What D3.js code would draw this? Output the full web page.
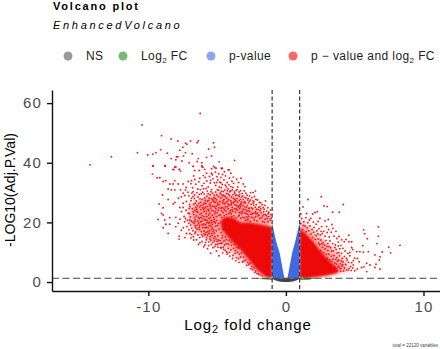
<!DOCTYPE html>
<html lang="en">
<head>
  <meta charset="utf-8">
  <title>Volcano plot</title>
  <script src="https://d3js.org/d3.v7.min.js"></script>
  <style type="text/css">
    body { margin: 0; background: #fff; }
    text { font-family: "Liberation Sans", Arial, sans-serif; }
    .axis path, .axis line { stroke: #111; stroke-width: 1.4; }
    .axis text { fill: #4d4d4d; font-size: 15px; letter-spacing: 1.2px; }
  </style>
</head>
<body>
  <div id="chart"></div>
  <script type="text/javascript">
    const w = 440;
    const h = 349;

    const xTicks = [-10, 0, 10];
    const yTicks = [0, 20, 40, 60];
    const fcCut = 1;
    const pCut = 1.3;

    const legendLabels = ["NS", "Log", "p-value", "p \u2212 value and log"];

    // solid parts of the plot, read as outlines: [x, low, high]
    const leftSoft = [[-7, 20, 25], [-6.5, 17, 27], [-5.5, 14, 29], [-4.5, 12, 30], [-3.5, 8.5, 28], [-2.5, 4.5, 25], [-1.5, 1.5, 23], [-1, 1.3, 22]];
    const leftSolid = [[-4.7, 18, 21], [-4.3, 15.5, 22], [-3.8, 13, 21.5], [-3.3, 10.8, 20], [-2.7, 7.5, 20], [-2, 3.6, 19.5], [-1.5, 1.8, 19], [-1, 1.3, 18.5]];
    const rightSoft = [[1, 1.3, 21], [1.5, 1.3, 19], [2, 1.6, 17], [2.5, 2, 15], [3, 2.3, 13], [3.5, 2.7, 10.5], [4, 3.2, 8], [4.5, 3.8, 6]];
    const rightSolid = [[1, 1.3, 18], [1.5, 1.3, 16], [2, 1.5, 13.5], [2.5, 1.9, 10.5], [3, 2.2, 8], [3.5, 2.7, 5.5], [3.8, 3.2, 4.5]];
    const leftBlue = [[-1, 1.3, 20], [-0.9, 1.3, 17.5], [-0.7, 1.3, 13.5], [-0.45, 1.3, 9.7], [-0.3, 1.3, 6], [-0.12, 1.3, 1.5]];
    const rightBlue = [[0.12, 1.3, 1.5], [0.3, 1.3, 6], [0.45, 1.3, 9.7], [0.7, 1.3, 14], [0.9, 1.3, 18], [1, 1.3, 20.5]];
    const greyBand = [[-1, 1.1, 1.3], [-0.8, 0.6, 1.3], [-0.5, 0.2, 1.3], [-0.2, 0, 1.3], [0.2, 0, 1.3], [0.5, 0.2, 1.3], [0.8, 0.6, 1.3], [1, 1.1, 1.3]];
    const greenLeft = [[-2.2, 1.25, 1.3], [-1.6, 0.9, 1.3], [-1, 0.8, 1.3]];
    const greenRight = [[1, 0.8, 1.3], [1.6, 0.8, 1.3], [2.2, 1.2, 1.3]];

    // single points
    const outliers = [[-14.23,39.3],[-12.68,42],[-10.79,43.4],[-10.45,52.7],[-10.04,42.6],[-9.67,42.9],[-9.45,43.4],[-9.11,44.4],[-9.04,49.1],[-8.77,38.9],[-8.63,43.2],[-9.67,38.9],
      [-8.34,48],[-7.85,47.3],[-6.93,47.3],[-7.3,46.6],[-7.2,46.2],[-6.37,47.3],[-6.45,46.7],[-5.26,46.7],[-7.49,45.2],[-5.19,45.2],[-5.62,44.6],[-7.71,44.2],[-7.3,43.4],[-6.81,43],[-7.85,42],[-7.95,42],[-7.44,42.3],[-5.4,42.3],[-5.77,41.8],[-8.34,41.4],[-8,41],[-7.56,40.6],[-6.37,41.4],[-7.03,40],[-6.45,40.4],[-6.11,40],[-4.85,40.3],[-3.73,40.8],[-8,38.6],[-6.74,38.8],[-6.11,39],[-6.06,38.5],[-5.26,38.8],[-5.4,38],[-5.07,38.2],[-4.65,38.2],[-8.15,37.7],[-7.73,37.8],[-5.9,37.8],[-6.23,56.5]];

    const leftSparse = [[-9.65,38.9],[-8.8,39],[-8.2,37.8],[-8.07,38.6],[-7.76,37.8],[-7.66,37.2],[-6.74,38.8],[-6.62,37.4],[-6.3,37.4],[-6.06,38.6],[-5.77,36.5],[-5.41,36.5],[-5.17,38.4],[-4.68,38.1],[-4.2,37.6],[-9.7,36.2],[-9.36,35],[-9.17,35],[-8.92,33.7],[-8.73,34],[-8.07,34],[-8.44,32.9],[-8.2,32.9],[-7.83,32.9],[-7.47,32.9],[-8.56,31.2],[-8.32,30.9],[-8.07,30.9],[-7.66,30.9],[-7.3,30.9],[-6.79,31.6],[-7.1,33.7],[-6.86,34],[-6.62,34.4],[-6.26,34.8],[-8.97,29.2],[-8.56,27.7],[-7.81,28.1],[-7.47,29.8],[-6.74,30.3],[-6.62,29.2],[-9.21,26.2],[-8.92,24.9],[-8.07,26.7],[-8.2,26.2],[-7.47,26.4],[-7.23,27],[-6.86,28.1],[-9.04,23],[-8.92,22.5],[-9.29,21],[-8.8,20.8],[-8.44,21.6],[-8,21.7],[-7.47,25],[-7.71,25],[-7.59,23.6],[-7.03,24.7],[-8.73,19.4],[-8.92,18.2],[-8.44,19.4],[-8,18.6],[-8.56,16.3],[-7.76,15.4],[-7.83,19.7],[-7.35,20.2],[-6.98,20.8],[-6.62,20.2],[-6.26,19.1],[-5.89,20.8],[-7.23,16.3],[-6.98,16.3],[-6.62,16.3],[-7.76,14.4],[-7.35,14.9],[-6.26,14.9],[-5.77,14.9],[-5.41,16.3],
      [-4.63,38.1],[-4.12,37.6],[-4,36.5],[-4.39,35.6],[-4.73,35.1],[-4.27,33.4],[-4.73,33.3],[-4,32],[-3.44,33.4],[-3.1,32.9],[-2.98,32],[-3.54,31],[-4.44,30.9],[-4.07,30.3],[-3.71,29.8],[-3.35,29.4],[-2.91,29.8],[-2.57,30],[-2.38,30],[-2.21,30.5],[-2.74,28],[-2.18,27.7],[-1.94,26.7],[-1.48,27.2],[-1.84,26.6],[-2.38,26.4],[-2.98,27],[-3.35,25.8],[-1.89,25.3],[-1.65,25],[-1.58,24.4],[-2.13,24.4],
      [-5.48,9.7],[-4.87,8.8],[-5.89,12.4],[-5.3,11.5],[-5.7,11.2],[-5.05,10.4],[-4.6,9.8],[-4.4,10.6],[-6.1,13.6],[-5.6,13.4],[-5.1,12.6],[-6.5,14.2],[-6.9,14.8]];

    const leftCloud = [[-6.9,27.3],[-6.7,26.1],[-6.4,28.5],[-6.2,26.8],[-6.05,30.1],[-5.9,28.2],[-5.8,31.4],[-5.65,29.6],[-5.5,33.2],[-5.4,31],[-5.3,34.6],[-5.2,29.1],[-5.1,32.4],[-5,35.3],[-4.9,30.8],[-4.8,33.5],[-4.7,31.6],[-4.6,28.9],[-4.5,34.2],[-4.4,32.5],[-4.3,29.7],[-4.2,31.3],[-4.1,34.9],[-3.9,30.9],[-3.8,33.1],[-3.7,27.8],[-3.6,29.2],[-3.5,31.9],[-3.4,27.4],[-3.3,30.6],[-3.2,28.5],[-3.05,26.6],[-2.9,28.2],[-2.8,25.7],[-2.65,27.1],[-2.5,24.9],[-2.35,25.8],[-2.2,23.7],[-2,24.3],[-1.8,23.2],[-1.6,22.7],[-1.4,23.8],[-1.25,21.9],[-1.1,22.6],
      [-7.1,23.1],[-6.95,21.8],[-6.8,24.6],[-6.7,22.7],[-6.55,25],[-6.4,23.4],[-6.3,21.2],[-6.2,24.3],[-6.1,22.2],[-6,26],[-5.95,23.6],[-5.85,25.2],[-5.75,21.9],[-5.7,27.1],[-5.6,23.9],[-5.55,26.1],[-5.45,24.8],[-5.4,27.9],[-5.3,25.4],[-5.25,28.3],[-5.15,26.7],[-5.05,27.6],[-4.95,25.9],[-4.9,28.7],[-4.8,27],[-4.7,29.4],[-4.6,26.5],[-4.5,27.7],[-4.4,25.3],[-4.3,28.2],[-4.2,26.1],[-4.1,29],[-4,27.2],[-3.9,25],[-3.8,28.1],[-3.7,25.9],[-3.6,24.6],[-3.5,26.8],[-3.4,23.3],[-3.3,25.2],[-3.2,22.9],[-3.1,24.4],[-3,21.6],[-2.9,23],[-2.8,20.9],[-2.7,22.1],[-2.6,20.4],[-2.5,21.7],[-2.4,23.1],[-2.3,20.8],[-2.2,21.9],[-2.1,20.5],[-1.9,21.3],[-1.7,20.3],[-1.5,21.1],[-1.3,20.2],[-1.15,20.8],
      [-7.2,18.6],[-7.05,19.7],[-6.85,18.1],[-6.75,17.2],[-6.6,18.9],[-6.45,17.7],[-6.35,19.8],[-6.15,16.9],[-6.05,18.3],[-5.95,17.1],[-5.85,19.2],[-5.7,15.8],[-5.65,18.1],[-5.55,20.1],[-5.5,15.2],[-5.4,17.6],[-5.35,19.3],[-5.25,14.6],[-5.2,16.4],[-5.1,18.7],[-5,13.6],[-4.95,15.5],[-4.85,12.9],[-4.75,11.6],[-4.65,13.1],[-4.55,11.7],[-4.45,12.4],[-4.3,10.1],[-4.2,11.3],[-4.1,9.9],[-4,10.8],[-3.85,8.9],[-3.7,9.6],[-3.6,8.2],[-3.45,7.8],[-3.3,8.4],[-3.15,6.7],[-3.05,7.1],[-2.85,5.6],[-2.7,5.9],[-2.55,4.5],[-2.4,4.1],[-2.25,3.3],[-2.1,2.9],
      [-6.6,20.9],[-6.35,21.7],[-6.1,20.4],[-5.8,22.9],[-5.6,21.3],[-5.35,22.4],[-5.2,21.1],[-5.75,19.9],[-6.5,23.7],[-6.05,24.9],[-5.85,27.4],[-5.5,29.3],[-5.3,27.5],[-5.1,30.2],[-4.85,31.9],[-4.55,30.4],[-4.25,30.6],[-3.95,28.5],[-3.75,30.2],[-3.55,28],[-3.25,26.4],[-3,25.3],[-2.75,24],[-2.45,22.9],[-6.25,27.9],[-6.75,28.7],[-7,26],[-6.15,29.6],[-5.55,35.4],[-5.95,33.1],[-5.2,33.3],[-4.95,34.2],[-6.1,32.3],[-6.4,31.2],[-6.55,32.8],[-5.65,31.9],[-6,35.7],[-5.75,33.9],[-4.6,36.1],[-5.35,36],[-6.7,35.6],[-6.9,33],[-7.25,31.7],[-7.6,28.6],[-7.35,29],[-7.05,28.9],[-7.4,22],[-7.7,21.1],[-7.25,24.1],[-7.15,20.7],[-7.45,18.2],[-7.6,17.4],[-7.05,17.5],[-6.85,15.9],[-6.4,15.8],[-6.05,15.3]];

    const leftBody = [[-6.33,33.6],[-5.87,35.1],[-5.12,36.8],[-4.88,36.3],[-4.47,37],[-3.82,35.2],[-3.58,34.5],[-3.27,34.8],[-3.92,33.8],[-4.62,32.7],[-5.03,33.4],[-5.47,34.1],[-5.72,30.5],[-5.98,31.3],[-6.22,31],[-6.47,30],[-6.83,29.8],[-7.12,30.1],[-5.58,28.2],[-5.33,29.8],[-5.02,29.3],[-4.78,29.9],[-4.52,29.1],[-4.33,31.9],[-4.14,32.6],[-3.86,31.7],[-3.62,30.7],[-3.41,30.2],[-3.18,29.7],[-3.03,30.6],[-2.82,29.1],[-2.64,28.9],[-2.47,28.3],[-2.29,28.7],[-2.06,27.5],
      [-6.52,27.2],[-6.33,26.3],[-6.08,27.7],[-5.92,26.6],[-5.68,25.3],[-5.43,26.7],[-5.18,25.2],[-4.97,26.6],[-4.73,28.2],[-4.64,25.1],[-4.48,26.2],[-4.27,27],[-4.12,25.8],[-3.94,26.5],[-3.74,27],[-3.57,25.7],[-3.38,28.6],[-3.22,27],[-3.09,27.7],[-2.93,26.5],[-2.72,26.6],[-2.54,26.1],[-2.31,26.9],[-2.16,25.9],[-1.98,25],[-1.73,25.9],[-1.52,25.7],[-1.32,24.9],[-1.12,24.2],
      [-6.97,25.3],[-6.62,24.1],[-6.27,25.2],[-5.99,24.3],[-5.78,23.8],[-5.52,23.1],[-5.27,23.8],[-5.09,24.6],[-4.87,24.9],[-4.68,23.9],[-4.52,24.7],[-4.36,23.8],[-4.21,24.6],[-4.03,24.1],[-3.87,23.7],[-3.66,23.4],[-3.53,24.1],[-3.35,24.6],[-3.15,23.8],[-2.96,24.3],[-2.78,22.7],[-2.62,23.7],[-2.41,24.5],[-2.23,25.1],[-2.07,23.1],[-1.88,23.9],[-1.68,22.2],[-1.47,22.6],[-1.28,22.9],[-1.08,21.4],
      [-7.3,21.3],[-7.02,22.9],[-6.78,20.1],[-6.52,22.2],[-6.24,22.7],[-6.02,21.2],[-5.82,20.9],[-5.62,22.5],[-5.43,20.7],[-5.16,22.9],[-4.98,23.2],[-4.76,22.6],[-4.56,23.3],[-4.34,22.7],[-4.17,23],[-3.98,22.8],[-3.78,22.2],[-3.62,21.6],[-3.44,22.1],[-3.28,21.4],[-3.12,21.7],[-2.94,20.7],[-2.74,21.2],[-2.56,22.7],[-2.36,21.6],[-2.17,22.8],[-1.96,22.4],[-1.76,21.6],[-1.56,20],[-1.36,21.3],
      [-6.92,19.1],[-6.68,19.6],[-6.43,19.1],[-6.21,20.2],[-5.97,19.5],[-5.76,18.4],[-5.58,19],[-5.33,18.2],[-5.13,19.8],[-5.28,20.4],[-5.46,18.7],[-5.68,16.9],[-5.88,15.8],[-5.59,16.3],[-5.36,15.6],[-5.16,15.2],[-6.27,17.6],[-6.56,16.8],[-6.72,15.2],[-6.12,15.9],[-5.94,16.2],[-5.78,14.2],[-5.52,14.4],[-5.31,13.3],[-5.08,14.4],[-4.91,14.1],[-4.78,13.9],[-4.63,14.8],[-4.5,13.8],[-4.32,12.9],[-4.18,12.7],[-3.96,12.3],[-3.8,11.3],[-3.67,10.6],[-3.52,10],[-3.36,9.3],[-3.22,9.8],[-3.08,8.3],[-2.92,7.4],[-2.78,6.6],[-2.62,6.3],[-2.47,5.2],[-2.32,4.7],[-2.18,3.8],[-2,2.7],[-1.88,2.4],[-1.72,2],
      [-4.9,19.6],[-5.02,20.6],[-5.23,17.5],[-4.7,11.4],[-4.94,11.7],[-5.17,11.9],[-5.42,12.6],[-5.62,12.2],[-4.52,10.9],[-4.27,9.4],[-4.08,8.7],[-3.88,7.9],[-3.64,7.2],[-3.41,6.6],[-5.84,13.3],[-6.25,13.2],[-6.7,14.1],[-5.97,11.8],[-6.36,12.6]];

    const leftExtra = [[-6.58,26.4],[-6.44,25.6],[-6.16,25.7],[-5.82,26.3],[-5.62,27.4],[-5.48,25.6],[-5.23,27],[-5.07,25.4],[-4.84,26],[-4.58,27.2],[-4.38,26.6],[-4.16,27.6],[-3.97,25.9],[-3.82,26.6],[-3.64,27.3],[-3.47,25.2],[-3.28,26],[-3.13,25.7],[-2.87,25],[-2.68,24.7],
      [-6.74,23.5],[-6.48,24.4],[-6.14,23.1],[-5.9,24.7],[-5.66,24.4],[-5.38,24],[-5.12,23.6],[-4.92,24.1],[-4.72,24.7],[-4.45,24.2],[-4.26,25.2],[-4.06,23.4],[-3.9,24.2],[-3.71,24.5],[-3.44,25.3],[-3.25,23.5],[-3.02,23.2],[-2.84,23.8],[-2.66,24.8],
      [-6.87,20.4],[-6.63,21.7],[-6.42,20.5],[-6.18,21.6],[-5.94,22],[-5.71,20.6],[-5.48,21.7],[-5.26,21.7],[-5.06,22],[-4.86,22.3],[-4.66,21.7],[-4.48,22.2],[-6.55,18.2],[-6.3,18.4],[-6.08,19.2],[-5.88,18.2],[-5.62,19.8],[-5.41,19.9],[-5.18,20.2],[-4.96,19],[-4.76,20],[-4.58,19.4],
      [-5.8,16.6],[-5.54,17.2],[-5.3,16.9],[-5.06,17.2],[-4.86,17.8],[-4.7,16.6],[-4.55,17.6],[-4.4,15.1],[-5.45,14],[-5.2,13.8],[-4.98,12.6],[-4.72,12.9],[-4.6,15.6],[-4.35,14.2],[-4.12,14],[-3.98,13.4],[-3.76,12.6],[-3.58,11.6],[-3.42,11.4],
      [-6.65,28],[-6.3,29.4],[-5.94,29.5],[-5.75,28.8],[-5.45,30.3],[-5.15,28.1],[-4.98,31],[-4.7,30.5],[-4.42,28.7],[-4.18,29.5],[-4.02,30.6],[-3.84,29.3],[-3.66,28.9],[-3.46,29],[-3.3,27.8],[-3.12,28.9],[-2.98,28.4],[-2.78,27.5],[-2.58,27.5],[-2.4,27.2],
      [-2.84,21.8],[-3.38,22.5],[-3.94,21.9],[-1.24,23.4],[-1.42,22.2],[-1.62,23.6],[-1.82,24.6],[-2.02,22.2],[-2.24,23.2]];

    const rightCloud = [[2.57,28.6],[1.6,27.7],[2.77,25.5],[3,25.3],[4.17,26],[1.24,25.2],[3.4,23.4],[3.88,23.4],[2.28,23.6],[2.11,23.3],[1.94,22.8],[1.5,23],[1.09,22.8],[1.8,21.4],[2.47,21.4],[2.84,20.5],[3.08,21],[3.35,19.3],[2.6,18.6],[2.96,18.6],
      [1.15,21.3],[1.3,20.2],[1.45,21.6],[1.6,19.9],[1.7,20.8],[2,20.1],[2.2,19.4],[2.35,20.3],[1.25,19],[1.55,18.2],[1.75,18.8],[1.9,17.6],[2.05,18.3],[2.25,17.2],[2.4,17.9],[2.75,17],[2.5,15.8],[2.65,16.3],[2.85,15.4],[3,16.6],[3.15,15.1],[3.3,16.7],[3.5,15.4],[3.7,14.6],[2.2,15.6],[2.35,14.4],[2.55,14.1],[2.7,13.3],[2.9,13.9],[3.05,12.9],[3.2,13.8],[3.4,12.9],[3.6,12.4],[3.8,13.4],[4,12.3],[4.15,11.3],[2.45,12.5],[2.65,11.6],[2.85,11.1],[3.05,10.6],[3.25,11.5],[3.45,10.4],[3.65,10.9],[3.85,9.9],[4.3,10.4],[4.5,9.6],[3.1,9.3],[3.3,8.7],[3.5,8.9],[3.7,8.2],[3.9,8.8],[4.1,7.9],[4.25,8.6],[4.45,7.3],[4.65,8.8],[3.35,6.9],[3.55,6.4],[3.75,7],[3.95,6.1],[4.15,6.7],[4.35,5.9],[4.55,6.6],[4.7,5.2],[3.6,4.9],[3.8,5.3],[4,4.5],[4.25,4.7],[4.4,4.1],[4.75,3.9],[3.3,3.5],[3.55,3.8],[5,3.8],[4.9,7.2],[5.2,7.9],[4.65,9.9],[4.85,10.9],
      [1.08,19.6],[1.38,18.8],[1.66,17.2],[1.47,16.9],[1.22,17.6],[1.82,16.1],[2.02,16.7],[2.13,14.3],[1.93,14.9],[2.32,16.2],[2.56,17],[2.38,13.1],[2.6,12.8],[2.8,12.4],[2.98,11.9],[3.14,11.9],[3.32,10.4],[3.56,11.6],[3.72,9.7],[3.92,11.2],[2.74,9.9],[2.92,9.3],[2.52,10.6],[3.02,8],[3.2,7.4],[3.42,7.7],[3.62,7.6],[3.83,7.3],[4.03,7.1],[3.15,5.6],[3.33,5.9],[3.5,5.4],[3.68,6],[3.88,4.9],[4.08,5.4],[3.1,4.4],[3.45,4.3],[3.72,3.8],[3.98,3.6],[4.2,3.7],[4.6,4.6],[4.85,4.7],[3.64,17],[3.86,15.3],[4.05,14.2],[3.42,18],[3.1,17.6]];

    const rightTail = [[6.72,18.5],[5.65,17.5],[5.72,16.2],[6.72,15.4],[4.58,15.7],[4.37,14.3],[4.78,13.5],[4.58,13.5],[5.92,14.5],[6.62,12.9],[7.47,11.7],[8.29,12.3],[7.61,9.8],[5.58,12.2],[4.78,11.6],[4.24,13.5],[3.81,12.1],[5.14,10.2],[5.38,10.2],[5.63,10],[5.99,10.2],[6.47,9.1],[7,10.1],[6.84,8.5],[6.79,7.4],[6.55,6],[6.84,4.4],[6.47,4.9],[5.87,3.5],[5.87,6.3],[5.67,5.1],[5.33,6.8],[5,8],[4.78,6.5],[4.41,8],[4.05,9.6],[4.12,5.7],[4.53,4],[5.19,4.4],[5.5,4.9],[6.11,5.7],[4.9,5.7]];

    const redPoints = outliers.concat(leftSparse, leftCloud, leftBody, leftExtra, rightCloud, rightTail);

    const svg = d3.select("#chart")
      .append("svg")
      .attr("width", w)
      .attr("height", h);

    // -10 at 149, 0 at 286, 10 at 424 and 60 at 103, 0 at 282 in the reference
    const xScale = d3.scaleLinear().domain([-17, 11.2]).range([52, 440]);
    const yScale = d3.scaleLinear().domain([-3, 64.4]).range([291, 90]);

    const defs = svg.append("defs");
    [["softBlur", 2.5], ["edgeBlur", 1.2]].forEach(f => {
      defs.append("filter")
        .attr("id", f[0])
        .attr("x", "-20%").attr("y", "-20%")
        .attr("width", "140%").attr("height", "140%")
        .append("feGaussianBlur")
        .attr("stdDeviation", f[1]);
    });
    // keeps the blurred red on its own side of the fold change lines
    defs.append("clipPath").attr("id", "leftSide").append("rect")
      .attr("x", 52).attr("y", 90).attr("width", xScale(-fcCut) - 52).attr("height", yScale(pCut) - 90);
    defs.append("clipPath").attr("id", "rightSide").append("rect")
      .attr("x", xScale(fcCut)).attr("y", 90).attr("width", 440 - xScale(fcCut)).attr("height", yScale(pCut) - 90);

    const band = d3.area()
      .x(d => xScale(d[0]))
      .y0(d => yScale(d[1]))
      .y1(d => yScale(d[2]));

    function drawBand(parent, data, color, opacity, filter) {
      const p = parent.append("path")
        .attr("d", band(data))
        .attr("fill", color)
        .attr("opacity", opacity);
      if (filter) p.attr("filter", `url(#${filter})`);
    }

    const leftGroup = svg.append("g").attr("clip-path", "url(#leftSide)");
    const rightGroup = svg.append("g").attr("clip-path", "url(#rightSide)");
    drawBand(leftGroup, leftSoft, "#ee0000", 0.35, "softBlur");
    drawBand(rightGroup, rightSoft, "#ee0000", 0.35, "softBlur");
    drawBand(leftGroup, leftSolid, "#ee0000", 0.95, "edgeBlur");
    drawBand(rightGroup, rightSolid, "#ee0000", 0.95, "edgeBlur");
    drawBand(svg, greyBand, "#444", 1);
    drawBand(svg, greenLeft, "#1e8a1e", 1);
    drawBand(svg, greenRight, "#1e8a1e", 1);
    drawBand(svg, leftBlue, "#4169e1", 1);
    drawBand(svg, rightBlue, "#4169e1", 1);

    svg.selectAll("circle.red")
      .data(redPoints)
      .enter()
      .append("circle")
      .attr("class", "red")
      .attr("cx", d => xScale(d[0]))
      .attr("cy", d => yScale(d[1]))
      .attr("r", 0.95)
      .attr("fill", "#f00")
      .attr("opacity", 0.9);

    // cut-off lines
    [-fcCut, fcCut].forEach(v => {
      svg.append("line")
        .attr("x1", xScale(v)).attr("x2", xScale(v))
        .attr("y1", 90).attr("y2", 291)
        .attr("stroke", "#333")
        .attr("stroke-width", 1.2)
        .attr("stroke-dasharray", "4,2.5");
    });
    svg.append("line")
      .attr("x1", 52).attr("x2", 440)
      .attr("y1", yScale(pCut)).attr("y2", yScale(pCut))
      .attr("stroke", "#444")
      .attr("stroke-width", 1.1)
      .attr("stroke-dasharray", "7,3.5");

    const bottomAxis = d3.axisBottom(xScale).tickValues(xTicks).tickSize(5).tickPadding(5).tickSizeOuter(0).tickFormat(d => d < 0 ? "-" + Math.abs(d) : d);
    svg.append("g")
      .attr("class", "axis")
      .attr("transform", "translate(0,291)")
      .call(bottomAxis);

    const leftAxis = d3.axisLeft(yScale).tickValues(yTicks).tickSize(5).tickPadding(5).tickSizeOuter(0);
    svg.append("g")
      .attr("class", "axis")
      .attr("transform", "translate(52,0)")
      .call(leftAxis);

    // titles
    svg.append("text")
      .attr("x", 53).attr("y", 10)
      .style("font-size", "11px")
      .style("font-weight", "bold")
      .style("letter-spacing", "1.8px")
      .text("Volcano plot");

    svg.append("text")
      .attr("x", 53).attr("y", 29)
      .style("font-size", "11px")
      .style("font-style", "italic")
      .style("letter-spacing", "2.7px")
      .text("EnhancedVolcano");

    // legend
    const legendColors = ["#999", "#74bb74", "#8ea6ea", "#f56868"];
    const legendDotX = [68, 123, 211, 293];
    const legend = svg.selectAll("g.legend")
      .data(legendLabels)
      .enter()
      .append("g")
      .attr("class", "legend")
      .attr("transform", (d, i) => `translate(${legendDotX[i]},56)`);

    legend.append("circle")
      .attr("r", 4.5)
      .style("fill", (d, i) => legendColors[i]);

    const legendText = legend.append("text")
      .attr("x", 18)
      .attr("y", 4)
      .style("font-size", "12px")
      .style("letter-spacing", "0.4px")
      .style("fill", "#222")
      .text(d => d);

    legendText.filter((d, i) => i === 1 || i === 3).each(function() {
      d3.select(this).append("tspan").attr("dy", 3).style("font-size", "8px").text("2");
      d3.select(this).append("tspan").attr("dy", -3).text(" FC");
    });

    // axis titles
    const xTitle = svg.append("text")
      .attr("x", 248).attr("y", 330)
      .style("text-anchor", "middle")
      .style("font-size", "15px")
      .style("letter-spacing", "0.9px")
      .text("Log");
    xTitle.append("tspan").attr("dy", 3).style("font-size", "11px").text("2");
    xTitle.append("tspan").attr("dy", -3).text(" fold change");

    svg.append("text")
      .attr("transform", "translate(15,190) rotate(-90)")
      .style("text-anchor", "middle")
      .style("font-size", "14px")
      .text("-LOG10(Adj.P.Val)");

    svg.append("text")
      .attr("x", 438).attr("y", 347)
      .style("text-anchor", "end")
      .style("font-size", "4.5px")
      .style("fill", "#444")
      .text("total = 22120 variables");
  </script>
</body>
</html>
